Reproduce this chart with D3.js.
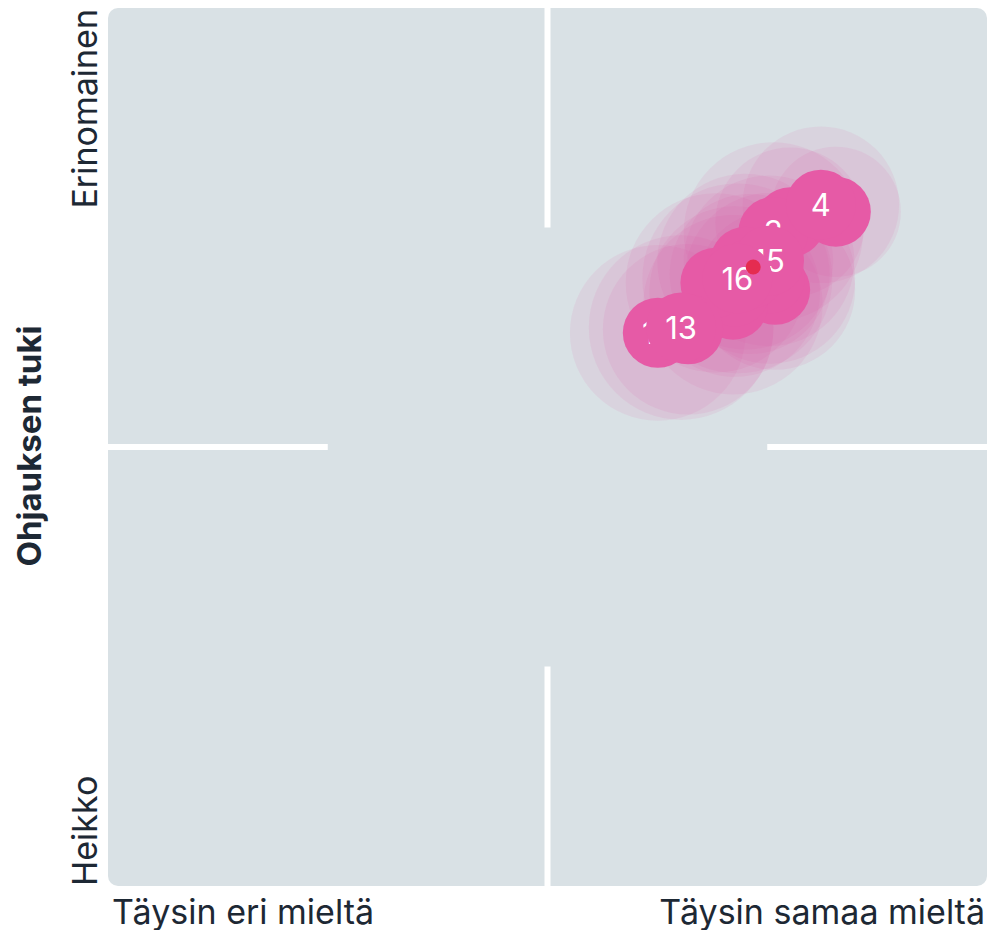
<!DOCTYPE html>
<html lang="fi">
<head>
<meta charset="UTF-8">
<title>Ohjauksen tuki</title>
<script src="https://d3js.org/d3.v7.min.js"></script>
<style>
    body { margin: 0; background: #fff; }
    .axis-label { font-family: Inter, "Liberation Sans", sans-serif; fill: #1d2834; }
    .bubble text { font-family: Inter, sans-serif; fill: #fff; font-size: 31px; }
</style>
</head>
<body>
<svg id="chart" width="991" height="930"></svg>
<script>
    // x: 0 = Täysin eri mieltä, 100 = Täysin samaa mieltä
    // y: 0 = Heikko, 100 = Erinomainen
    // bubbles are drawn in label order, later ones cover earlier labels
    var labels = ["1", "2", "3", "4", "5", "6", "7", "8", "9", "10", "11", "12", "13", "14", "15", "16"];
    var xValues = [77.6, 82.8, 75.7, 81.1, 75.9, 75.3, 71.1, 71.3, 69.1, 66.0, 72.5, 62.55, 65.2, 73.0, 75.2, 71.6];
    var yValues = [75.6, 76.8, 74.5, 77.6, 67.9, 69.2, 66.2, 67.7, 68.7, 63.4, 71.1, 63.0, 63.6, 69.7, 71.2, 69.2];
    var spread = [8.5, 7.4, 10.2, 8.9, 9.1, 9.7, 10.2, 9.7, 10.2, 9.7, 10.0, 10.0, 10.5, 9.1, 9.7, 10.8];
    var meanX = 73.4, meanY = 70.5;
    var xTickLabels = ["Täysin eri mieltä", "Täysin samaa mieltä"];
    var yTickLabels = ["Heikko", "Erinomainen"];
    var yTitle = "Ohjauksen tuki";

    var svg = d3.select("#chart");
    var plotLeft = 108, plotRight = 987, plotTop = 8, plotBottom = 886;

    var x = d3.scaleLinear().domain([0, 100]).range([plotLeft, plotRight]);
    var y = d3.scaleLinear().domain([0, 100]).range([plotBottom, plotTop]);
    // spread in value units -> pixel radius
    var r = d3.scaleLinear().domain([0, 100]).range([0, plotRight - plotLeft]);

    var midX = x(50), midY = y(50), gap = 3;

    svg.append("clipPath").attr("id", "plot-clip")
        .append("rect")
        .attr("x", plotLeft).attr("y", plotTop)
        .attr("width", plotRight - plotLeft).attr("height", plotBottom - plotTop)
        .attr("rx", 10);

    var plot = svg.append("g").attr("clip-path", "url(#plot-clip)");
    var bg = "#d9e1e5";

    var quads = [
        [plotLeft, plotTop, midX - gap, midY - gap],
        [midX + gap, plotTop, plotRight, midY - gap],
        [plotLeft, midY + gap, midX - gap, plotBottom],
        [midX + gap, midY + gap, plotRight, plotBottom]
    ];
    plot.selectAll("rect.quad").data(quads).enter().append("rect")
        .attr("class", "quad")
        .attr("x", function (d) { return d[0]; })
        .attr("y", function (d) { return d[1]; })
        .attr("width", function (d) { return d[2] - d[0]; })
        .attr("height", function (d) { return d[3] - d[1]; })
        .attr("fill", bg);

    // centre square covering the cross
    plot.append("rect")
        .attr("x", x(25)).attr("y", y(75))
        .attr("width", x(75) - x(25)).attr("height", y(25) - y(75))
        .attr("fill", bg);

    var points = labels.map(function (l, i) {
        return {label: l, x: xValues[i], y: yValues[i], s: spread[i]};
    });

    var pink = "#e65aa6";

    // halos
    plot.append("g").selectAll("circle").data(points).enter().append("circle")
        .attr("cx", function (d) { return x(d.x); })
        .attr("cy", function (d) { return y(d.y); })
        .attr("r", function (d) { return r(d.s); })
        .attr("fill", pink)
        .attr("fill-opacity", 0.1);

    var bubble = plot.append("g").selectAll("g").data(points).enter().append("g")
        .attr("class", "bubble")
        .attr("transform", function (d) { return "translate(" + x(d.x) + "," + y(d.y) + ")"; });
    bubble.append("circle").attr("r", 35).attr("fill", pink);
    bubble.append("text")
        .attr("text-anchor", "middle")
        .attr("dy", "0.36em")
        .text(function (d) { return d.label; });

    plot.append("circle")
        .attr("cx", x(meanX)).attr("cy", y(meanY))
        .attr("r", 7.5).attr("fill", "#e52c50");

    // axis labels
    svg.append("text").attr("class", "axis-label")
        .attr("x", plotLeft + 4).attr("y", 924)
        .attr("font-size", 34)
        .text(xTickLabels[0]);
    svg.append("text").attr("class", "axis-label")
        .attr("x", plotRight - 2).attr("y", 924)
        .attr("text-anchor", "end")
        .attr("font-size", 34)
        .text(xTickLabels[1]);

    svg.append("text").attr("class", "axis-label")
        .attr("transform", "translate(97," + plotBottom + ") rotate(-90)")
        .attr("font-size", 34)
        .text(yTickLabels[0]);
    svg.append("text").attr("class", "axis-label")
        .attr("transform", "translate(97," + (plotTop + 1) + ") rotate(-90)")
        .attr("text-anchor", "end")
        .attr("font-size", 34)
        .text(yTickLabels[1]);
    svg.append("text").attr("class", "axis-label")
        .attr("transform", "translate(41,446) rotate(-90)")
        .attr("text-anchor", "middle")
        .attr("font-size", 33)
        .attr("font-weight", 700)
        .text(yTitle);
</script>
</body>
</html>
